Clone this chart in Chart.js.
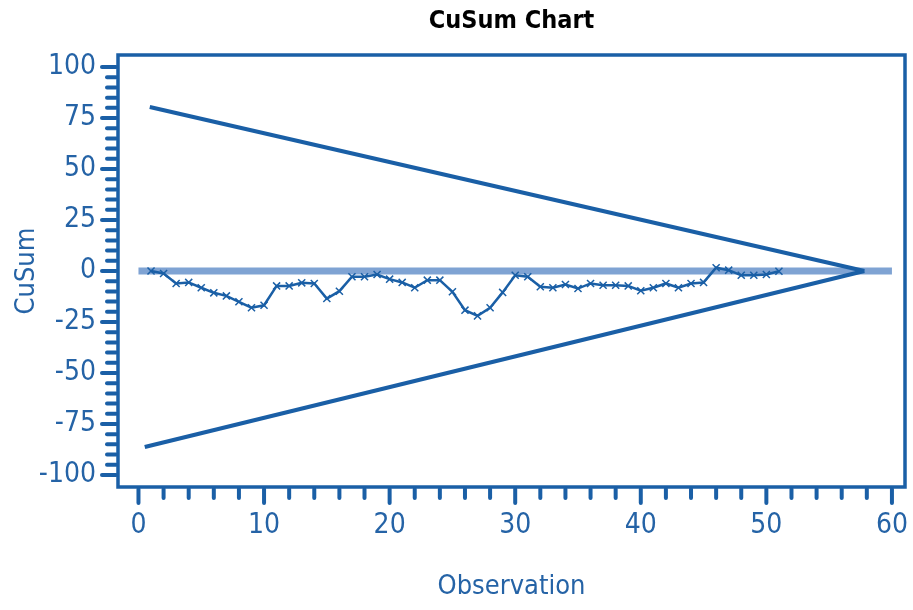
<!DOCTYPE html>
<html>
<head>
<meta charset="utf-8">
<script src="https://cdn.jsdelivr.net/npm/chart.js@4.4.1/dist/chart.umd.min.js"></script>
<style>
  html, body { margin: 0; padding: 0; background: #ffffff; }
  #wrap { width: 913px; height: 610px; position: relative; }
</style>
</head>
<body>
<div id="wrap"><canvas id="cusum"></canvas></div>
<script>
// Observation numbers and their cumulative sums
const observations = [1, 2, 3, 4, 5, 6, 7, 8, 9, 10,
  11, 12, 13, 14, 15, 16, 17, 18, 19, 20,
  21, 22, 23, 24, 25, 26, 27, 28, 29, 30,
  31, 32, 33, 34, 35, 36, 37, 38, 39, 40,
  41, 42, 43, 44, 45, 46, 47, 48, 49, 50, 51];
const cusumValues = [0, -1.2, -6.1, -5.6, -8.2, -10.7, -12.2, -15.1, -18.0, -16.8,
  -7.3, -7.3, -5.8, -6.1, -13.5, -9.9, -2.8, -2.8, -1.7, -4.0,
  -5.6, -8.2, -4.5, -4.5, -10.2, -19.2, -22.0, -18.0, -10.5, -2.1,
  -2.8, -7.7, -8.2, -6.6, -8.6, -6.1, -7.0, -7.0, -7.3, -9.7,
  -8.2, -6.1, -8.2, -6.1, -5.6, 1.6, 0.4, -2.1, -2.1, -1.7, -0.1];

// Target (zero) line
const centerLineX = [0, 60];
const centerLineY = [0, 0];

// V-mask arms meeting at the apex
const upperArmX = [0.9, 57.8];
const upperArmY = [80.4, 0];
const lowerArmX = [0.5, 57.8];
const lowerArmY = [-86.3, 0];

// Axis ticks
const xTickValues = [0, 10, 20, 30, 40, 50, 60];
const yTickValues = [-100, -75, -50, -25, 0, 25, 50, 75, 100];
const xMinorStep = 2;
const yMinorStep = 5;

const DARK = '#1a5fa6';
const LIGHT = '#7fa3d3';
const TEXT = '#2563a6';
const NARROW = "'Liberation Sans Narrow', 'DejaVu Sans Condensed', sans-serif";

const toPoints = (xs, ys) => xs.map((x, i) => ({ x: x, y: ys[i] }));

// Frame around the plot area plus outward major/minor tick marks
const frameTicks = {
  id: 'frameTicks',
  afterDraw(chart) {
    const { ctx, chartArea: a, scales: { x, y } } = chart;
    ctx.save();
    ctx.strokeStyle = DARK;
    ctx.lineWidth = 3.5;
    ctx.strokeRect(a.left, a.top, a.right - a.left, a.bottom - a.top);
    ctx.lineCap = 'round';
    ctx.lineWidth = 4;
    const xFirst = xTickValues[0], xLast = xTickValues[xTickValues.length - 1];
    for (let v = xFirst; v <= xLast; v += xMinorStep) {
      const px = x.getPixelForValue(v);
      const len = v % 10 === 0 ? 16 : 11;
      ctx.beginPath();
      ctx.moveTo(px, a.bottom + 2);
      ctx.lineTo(px, a.bottom + len);
      ctx.stroke();
    }
    const yFirst = yTickValues[0], yLast = yTickValues[yTickValues.length - 1];
    for (let v = yFirst; v <= yLast; v += yMinorStep) {
      const py = y.getPixelForValue(v);
      const len = v % 25 === 0 ? 16 : 11;
      ctx.beginPath();
      ctx.moveTo(a.left - 2, py);
      ctx.lineTo(a.left - len, py);
      ctx.stroke();
    }
    ctx.restore();
  }
};

new Chart(document.getElementById('cusum'), {
  type: 'scatter',
  data: {
    datasets: [
      {
        label: 'Target',
        data: toPoints(centerLineX, centerLineY),
        showLine: true,
        borderColor: LIGHT,
        borderWidth: 7,
        pointRadius: 0,
        order: 3
      },
      {
        label: 'Upper arm',
        data: toPoints(upperArmX, upperArmY),
        showLine: true,
        borderColor: DARK,
        borderWidth: 4,
        pointRadius: 0,
        order: 2
      },
      {
        label: 'Lower arm',
        data: toPoints(lowerArmX, lowerArmY),
        showLine: true,
        borderColor: DARK,
        borderWidth: 4,
        pointRadius: 0,
        order: 2
      },
      {
        label: 'CuSum',
        data: toPoints(observations, cusumValues),
        showLine: true,
        borderColor: DARK,
        borderWidth: 2.5,
        pointStyle: 'crossRot',
        pointRadius: 5,
        pointBorderWidth: 1.5,
        pointBorderColor: DARK,
        order: 1
      }
    ]
  },
  options: {
    responsive: true,
    maintainAspectRatio: false,
    animation: false,
    layout: { padding: { left: 0, right: 8, top: 0, bottom: 0 } },
    plugins: {
      legend: { display: false },
      tooltip: { enabled: false },
      title: {
        display: true,
        fullSize: false,
        text: 'CuSum Chart',
        color: '#000000',
        font: { family: "'DejaVu Sans Condensed', sans-serif", size: 25, weight: 'bold', lineHeight: 1.2 },
        padding: { top: 6, bottom: 19 }
      }
    },
    scales: {
      x: {
        type: 'linear',
        min: -1.63,
        max: 61.04,
        afterBuildTicks: (scale) => { scale.ticks = xTickValues.map(v => ({ value: v })); },
        afterFit: (scale) => { scale.height = 123; scale.paddingLeft = 0; scale.paddingRight = 0; },
        grid: { display: false, drawTicks: false },
        border: { display: false },
        ticks: {
          color: TEXT,
          padding: 22,
          maxRotation: 0,
          font: { family: NARROW, size: 28 }
        },
        title: {
          display: true,
          text: 'Observation',
          color: TEXT,
          font: { family: NARROW, size: 27 },
          padding: { top: 0, bottom: 7 }
        }
      },
      y: {
        type: 'linear',
        min: -105.9,
        max: 105.9,
        afterBuildTicks: (scale) => { scale.ticks = yTickValues.map(v => ({ value: v })); },
        afterFit: (scale) => { scale.width = 118; scale.paddingTop = 0; scale.paddingBottom = 0; },
        grid: { display: false, drawTicks: false },
        border: { display: false },
        ticks: {
          color: TEXT,
          padding: 22,
          font: { family: NARROW, size: 28 }
        },
        title: {
          display: true,
          text: 'CuSum',
          color: TEXT,
          font: { family: NARROW, size: 27 },
          padding: { top: 11, bottom: 0 }
        }
      }
    }
  },
  plugins: [frameTicks]
});
</script>
</body>
</html>
